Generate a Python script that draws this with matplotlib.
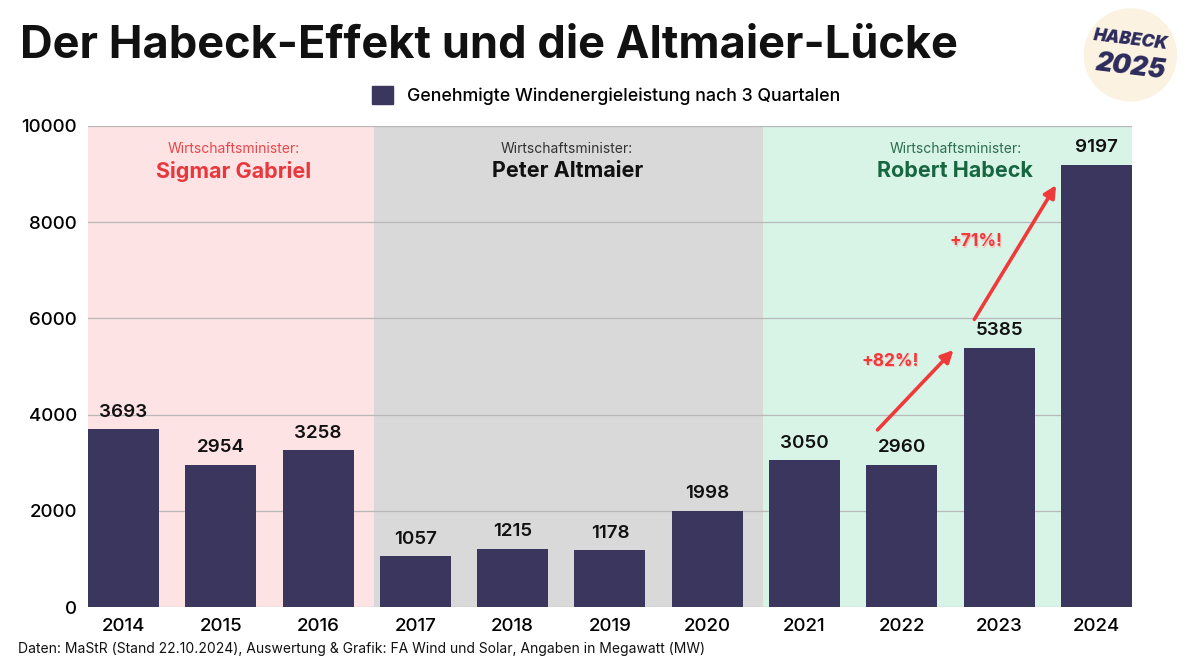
import numpy as np
import matplotlib.pyplot as plt
from matplotlib.patches import Circle, Patch

plt.rcParams['font.family'] = ['Inter', 'DejaVu Sans']

years = ["2014", "2015", "2016", "2017", "2018", "2019", "2020", "2021", "2022", "2023", "2024"]
values = [3693, 2954, 3258, 1057, 1215, 1178, 1998, 3050, 2960, 5385, 9197]
ministers = ["Sigmar Gabriel", "Peter Altmaier", "Robert Habeck"]
ministers_span = [(-0.37, 2.57), (2.57, 6.57), (6.57, 10.37)]
growth_labels = ["+82%!", "+71%!"]

bar_col = "#3a365e"
span_cols = ["#fde3e3", "#d9d9d9", "#d8f4e7"]
name_cols = ["#e8383d", "#111111", "#17663f"]
sub_cols = ["#e8474c", "#333333", "#2c6e4e"]
red = "#f03a3a"

fig = plt.figure(figsize=(12, 6.7), dpi=100)
ax = fig.add_axes([0.0733, 0.094, 0.87, 0.718])

x = np.arange(len(years))
for (a, b), c in zip(ministers_span, span_cols):
    ax.axvspan(a, b, ymin=0, ymax=1, color=c, zorder=0, lw=0)
ax.grid(axis="y", color="#b8b8b8", lw=0.9, zorder=1)
ax.bar(x, values, width=0.73, color=bar_col, zorder=3)

for xi, v in zip(x, values):
    ax.text(xi, v + 180, str(v), ha="center", va="bottom", fontsize=13.5,
            fontweight="semibold", color="#111111", zorder=4)

# minister headers
header_x = [1.13, 4.56, 8.55]
for cx, name, nc, sc in zip(header_x, ministers, name_cols, sub_cols):
    ax.text(cx, 9530, "Wirtschaftsminister:", ha="center", va="center",
            fontsize=10, color=sc)
    ax.text(cx, 9060, name, ha="center", va="center", fontsize=15.5,
            fontweight="bold", color=nc)

# arrows
ax.annotate("", xy=(8.55, 5385), xytext=(7.73, 3640),
            arrowprops=dict(arrowstyle="-|>", color=red, lw=2.6,
                            mutation_scale=18), zorder=5)
ax.annotate("", xy=(9.6, 8820), xytext=(8.73, 5930),
            arrowprops=dict(arrowstyle="-|>", color=red, lw=2.6,
                            mutation_scale=18), zorder=5)
for (gx, gy), lab in zip([(7.88, 5110), (8.76, 7590)], growth_labels):
    ax.text(gx + 0.01, gy - 35, lab, ha="center", va="center", fontsize=12.5,
            fontweight="bold", color="#f7c0c0", zorder=5)
    ax.text(gx, gy, lab, ha="center", va="center", fontsize=12.5,
            fontweight="bold", color=red, zorder=6)

ax.set_xlim(-0.365, 10.365)
ax.set_ylim(0, 10000)
ax.set_yticks([0, 2000, 4000, 6000, 8000, 10000])
ax.set_xticks(x)
ax.set_xticklabels(years)
ax.tick_params(axis="both", length=0, labelsize=13.5, pad=8)
for lab in ax.get_xticklabels() + ax.get_yticklabels():
    lab.set_fontweight("medium")
for s in ax.spines.values():
    s.set_visible(False)

fig.text(0.017, 0.932, "Der Habeck-Effekt und die Altmaier-Lücke", fontsize=32.5,
         fontweight="bold", color="#111111", va="center", ha="left")
fig.legend(handles=[Patch(color=bar_col)],
           labels=["Genehmigte Windenergieleistung nach 3 Quartalen"],
           loc="center", bbox_to_anchor=(0.505, 0.857), frameon=False,
           prop={"size": 12.8, "weight": "medium"},
           handlelength=1.2, handleheight=1.2)
fig.text(0.015, 0.032,
         "Daten: MaStR (Stand 22.10.2024), Auswertung & Grafik: FA Wind und Solar, Angaben in Megawatt (MW)",
         fontsize=10, color="#111111", va="center")

# logo
lx, ly = 0.942, 0.918
fig.patches.append(Circle((lx * 1200, ly * 670), 46, transform=None,
                          color="#fbf2e2", zorder=0))
fig.text(lx, ly + 0.022, "HABECK", fontsize=12.5, fontweight="black",
         color="#2c2b5c", ha="center", va="center", rotation=-7, style="italic")
fig.text(lx, ly - 0.018, "2025", fontsize=19, fontweight="black",
         color="#2c2b5c", ha="center", va="center", rotation=-7, style="italic")

fig.savefig("out.png", dpi=100)
